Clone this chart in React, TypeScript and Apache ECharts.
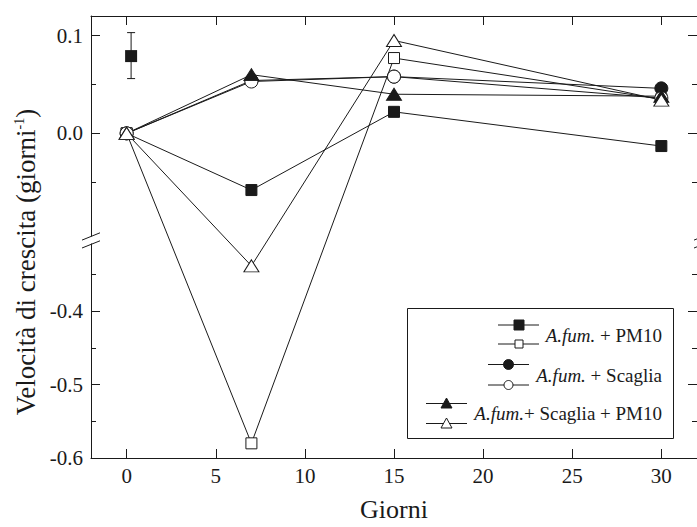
import React, { useEffect, useRef } from "react";
import * as echarts from "echarts";

// ---- data ----
const days = [0, 7, 15, 30];
const fumPM10Filled = [0, -0.058, 0.022, -0.013];
const fumPM10Open = [0, -0.58, 0.077, 0.035];
const fumScagliaFilled = [0, 0.054, 0.058, 0.046];
const fumScagliaOpen = [0, 0.053, 0.058, 0.036];
const fumScagliaPM10Filled = [0, 0.06, 0.04, 0.038];
const fumScagliaPM10Open = [0, -0.338, 0.095, 0.034];

// isolated point with error bar
const extraDay = [0.25];
const extraValue = [0.079];
const extraLow = [0.056];
const extraHigh = [0.103];

const xTicks = [0, 5, 10, 15, 20, 25, 30];
const yMajorTicks = [0.1, 0.0, -0.4, -0.5, -0.6];
const yMinorTicks = [0.05, -0.05, -0.35, -0.45, -0.55];

const legendItalic = "A.fum.";
const legendRest = [" + PM10", " + Scaglia", "+ Scaglia + PM10"];

// ---- broken y axis transform ----
const BREAK_TOP = -0.104;
const BREAK_BOTTOM = -0.296;
const TOP_K = 1000;
const BOTTOM_K = 750;
const toD = (v: number) =>
  v >= BREAK_TOP ? v * TOP_K : BREAK_TOP * TOP_K - (BREAK_BOTTOM - v) * BOTTOM_K;
const fromD = (d: number) =>
  d >= BREAK_TOP * TOP_K ? d / TOP_K : BREAK_BOTTOM + (d - BREAK_TOP * TOP_K) / BOTTOM_K;

const Y_MIN = toD(-0.6);
const Y_MAX = toD(0.12);

const FONT = "'Liberation Serif', 'Times New Roman', 'DejaVu Serif', serif";
const INK = "#1a1a1a";

const GRID_LEFT = 91;
const GRID_TOP = 16;
const GRID_W = 612;
const GRID_H = 452;

export default function App() {
  const ref = useRef<HTMLDivElement>(null);

  useEffect(() => {
    if (!ref.current) return;
    const chart = echarts.init(ref.current, null, { renderer: "svg" });

    const lineSeries = (
      name: string,
      values: number[],
      symbol: string,
      size: number | number[],
      filled: boolean
    ) => ({
      type: "line",
      name,
      data: days.map((d, i) => [d, toD(values[i])]),
      symbol,
      symbolSize: size,
      showAllSymbol: true,
      lineStyle: { color: INK, width: 1 },
      itemStyle: {
        color: filled ? INK : "#ffffff",
        borderColor: INK,
        borderWidth: 1,
        opacity: 1,
      },
      emphasis: { disabled: true },
    });

    const majorD = yMajorTicks.map(toD);
    const minorD = yMinorTicks.map(toD);

    const yBase = {
      type: "value",
      min: Y_MIN,
      max: Y_MAX,
      splitLine: { show: false },
    };

    const breakY = GRID_TOP + (Y_MAX - BREAK_TOP * TOP_K);

    const breakMarks = (ax: number) => [
      {
        type: "rect",
        shape: { x: ax - 2.5, y: breakY - 3.5, width: 5, height: 7 },
        style: { fill: "#ffffff" },
        z: 100,
      },
      {
        type: "line",
        shape: { x1: ax - 9, y1: breakY + 0.1, x2: ax + 9, y2: breakY - 7.2 },
        style: { stroke: INK, lineWidth: 1 },
        z: 101,
      },
      {
        type: "line",
        shape: { x1: ax - 9, y1: breakY + 8, x2: ax + 9, y2: breakY + 0.8 },
        style: { stroke: INK, lineWidth: 1 },
        z: 101,
      },
    ];

    // legend layout
    const legendRows = [
      { lx1: 498, lx2: 539, mx: 519, yf: 325, yo: 344, ty: 335, kind: "square" },
      { lx1: 488, lx2: 529, mx: 508.5, yf: 364.5, yo: 385, ty: 375, kind: "circle" },
      { lx1: 426, lx2: 467, mx: 446.5, yf: 403.5, yo: 423.5, ty: 413.5, kind: "triangle" },
    ];
    const legendChildren: any[] = [
      {
        type: "rect",
        shape: { x: 407.5, y: 308.5, width: 266, height: 130 },
        style: { fill: "#ffffff", stroke: INK, lineWidth: 1 },
      },
    ];
    const marker = (kind: string, x: number, y: number, filled: boolean) => {
      const style = { fill: filled ? INK : "#ffffff", stroke: INK, lineWidth: 1 };
      if (kind === "square") {
        const s = filled ? 10 : 8;
        return { type: "rect", shape: { x: x - s / 2, y: y - s / 2, width: s, height: s }, style };
      }
      if (kind === "circle") {
        return { type: "circle", shape: { cx: x, cy: y, r: filled ? 5 : 4.5 }, style };
      }
      return {
        type: "polygon",
        shape: { points: [[x - 5.5, y + 4.5], [x + 5.5, y + 4.5], [x, y - 5.5]] },
        style,
      };
    };
    legendRows.forEach((r, i) => {
      legendChildren.push(
        { type: "line", shape: { x1: r.lx1, y1: r.yf, x2: r.lx2, y2: r.yf }, style: { stroke: INK, lineWidth: 1 } },
        { type: "line", shape: { x1: r.lx1, y1: r.yo, x2: r.lx2, y2: r.yo }, style: { stroke: INK, lineWidth: 1 } },
        marker(r.kind, r.mx, r.yf, true),
        marker(r.kind, r.mx, r.yo, false),
        {
          type: "text",
          x: 662,
          y: r.ty,
          style: {
            text: `{i|${legendItalic}}{n|${legendRest[i]}}`,
            rich: {
              i: { fontStyle: "italic", fontSize: 19, fontFamily: FONT, fill: INK, color: INK },
              n: { fontSize: 19, fontFamily: FONT, fill: INK, color: INK },
            },
            align: "right",
            verticalAlign: "middle",
          },
        }
      );
    });

    const option: any = {
      animation: false,
      backgroundColor: "#ffffff",
      textStyle: { fontFamily: FONT },
      grid: { left: GRID_LEFT, top: GRID_TOP, width: GRID_W, height: GRID_H, containLabel: false },
      xAxis: [
        {
          type: "value",
          min: -2,
          max: 32,
          position: "bottom",
          axisLine: { show: true, onZero: false, lineStyle: { color: INK, width: 1 } },
          axisTick: { show: true, inside: true, length: 9, customValues: xTicks, lineStyle: { color: INK } },
          axisLabel: {
            customValues: xTicks,
            margin: 7,
            fontSize: 21,
            fontFamily: FONT,
            color: INK,
          },
          splitLine: { show: false },
          name: "Giorni",
          nameLocation: "middle",
          nameGap: 38,
          nameTextStyle: { fontSize: 26, fontFamily: FONT, color: INK },
        },
        {
          type: "value",
          min: -2,
          max: 32,
          position: "top",
          axisLine: { show: true, onZero: false, lineStyle: { color: INK, width: 1 } },
          axisTick: { show: true, inside: true, length: 9, customValues: xTicks, lineStyle: { color: INK } },
          axisLabel: { show: false },
          splitLine: { show: false },
        },
      ],
      yAxis: [
        {
          ...yBase,
          position: "left",
          axisLine: { show: true, onZero: false, lineStyle: { color: INK, width: 1 } },
          axisTick: { show: true, inside: true, length: 9, customValues: majorD, lineStyle: { color: INK } },
          axisLabel: {
            customValues: majorD,
            margin: 8,
            fontSize: 21,
            fontFamily: FONT,
            color: INK,
            formatter: (val: number) => {
              const v = fromD(val);
              const s = v.toFixed(1);
              return s === "-0.0" ? "0.0" : s;
            },
          },
        },
        {
          ...yBase,
          position: "left",
          axisLine: { show: false, onZero: false },
          axisTick: { show: true, inside: true, length: 5, customValues: minorD, lineStyle: { color: INK } },
          axisLabel: { show: false },
        },
        {
          ...yBase,
          position: "right",
          axisLine: { show: true, onZero: false, lineStyle: { color: INK, width: 1 } },
          axisTick: { show: true, inside: true, length: 9, customValues: majorD, lineStyle: { color: INK } },
          axisLabel: { show: false },
        },
        {
          ...yBase,
          position: "right",
          axisLine: { show: false, onZero: false },
          axisTick: { show: true, inside: true, length: 5, customValues: minorD, lineStyle: { color: INK } },
          axisLabel: { show: false },
        },
      ],
      series: [
        lineSeries("A.fum. + PM10", fumPM10Filled, "rect", 11, true),
        lineSeries("A.fum. + PM10 (open)", fumPM10Open, "rect", 11, false),
        lineSeries("A.fum. + Scaglia", fumScagliaFilled, "circle", 13, true),
        lineSeries("A.fum. + Scaglia (open)", fumScagliaOpen, "circle", 13, false),
        lineSeries("A.fum. + Scaglia + PM10", fumScagliaPM10Filled, "triangle", [15, 12], true),
        lineSeries("A.fum. + Scaglia + PM10 (open)", fumScagliaPM10Open, "triangle", [15, 12], false),
        {
          type: "custom",
          name: "error",
          data: extraDay.map((d, i) => [d, toD(extraLow[i]), toD(extraHigh[i])]),
          renderItem: (params: any, api: any) => {
            const x = api.value(0);
            const lo = api.coord([x, api.value(1)]);
            const hi = api.coord([x, api.value(2)]);
            const cw = 4;
            const st = { stroke: INK, lineWidth: 1, fill: "none" };
            return {
              type: "group",
              children: [
                { type: "line", shape: { x1: lo[0], y1: lo[1], x2: hi[0], y2: hi[1] }, style: st },
                { type: "line", shape: { x1: lo[0] - cw, y1: lo[1], x2: lo[0] + cw, y2: lo[1] }, style: st },
                { type: "line", shape: { x1: hi[0] - cw, y1: hi[1], x2: hi[0] + cw, y2: hi[1] }, style: st },
              ],
            };
          },
        },
        {
          type: "scatter",
          name: "A.fum. + PM10 (extra)",
          data: extraDay.map((d, i) => [d, toD(extraValue[i])]),
          symbol: "rect",
          symbolSize: 12,
          itemStyle: { color: INK, opacity: 1 },
          emphasis: { disabled: true },
        },
      ],
      graphic: [
        ...breakMarks(GRID_LEFT),
        ...breakMarks(GRID_LEFT + GRID_W),
        {
          type: "text",
          x: 26,
          y: 262,
          rotation: Math.PI / 2,
          style: {
            text: "{n|Velocità di crescita (giorni}{s|-1}{n|)}",
            rich: {
              n: { fontSize: 27, fontFamily: FONT, fill: INK, color: INK, lineHeight: 28 },
              s: { fontSize: 14, fontFamily: FONT, fill: INK, color: INK, lineHeight: 28, verticalAlign: "top" },
            },
            align: "center",
            verticalAlign: "middle",
          },
        },
        { type: "group", children: legendChildren, z: 50 },
      ],
    };

    chart.setOption(option);
    return () => chart.dispose();
  }, []);

  return (
    <div
      ref={ref}
      style={{ position: "fixed", left: 0, top: 0, width: 697, height: 527, background: "#fff" }}
    />
  );
}
